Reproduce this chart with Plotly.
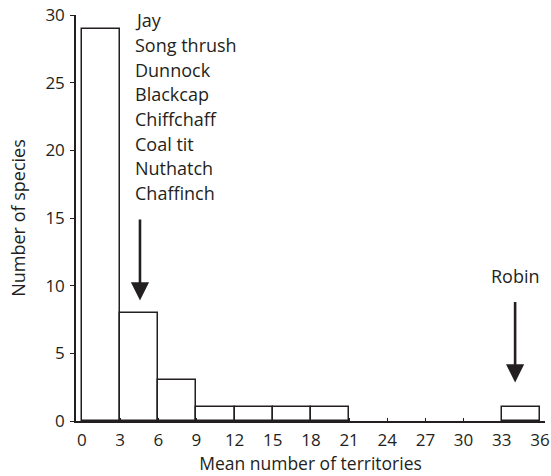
import plotly.graph_objects as go

# Data
bin_left = [0, 3, 6, 9, 12, 15, 18, 33]
bin_width = 3
counts = [29, 8, 3, 1, 1, 1, 1, 1]
tick_vals = list(range(0, 37, 3))
species_low = ["Jay", "Song thrush", "Dunnock", "Blackcap", "Chiffchaff",
               "Coal tit", "Nuthatch", "Chaffinch"]
robin_label = "Robin"
arrow1_x, arrow1_tail, arrow1_tip = 4.56, 15.0, 8.9
arrow2_x, arrow2_tail, arrow2_tip = 34.05, 8.9, 2.85

FONT = "Open Sans"
INK = "#231f20"

centers = [b + bin_width / 2 for b in bin_left]

fig = go.Figure()
fig.add_trace(go.Bar(
    x=centers, y=counts, width=[bin_width] * len(counts),
    marker=dict(color="white", line=dict(color=INK, width=1.5)),
    showlegend=False, hoverinfo="skip",
))

annotations = []
for i, name in enumerate(species_low):
    annotations.append(dict(
        x=4.0, y=29.6 - i * 1.82, xref="x", yref="y", text=name,
        showarrow=False, xanchor="left", yanchor="middle",
        font=dict(family=FONT, size=18, color=INK),
    ))
annotations.append(dict(
    x=arrow2_x, y=10.7, xref="x", yref="y", text=robin_label,
    showarrow=False, xanchor="center", yanchor="middle",
    font=dict(family=FONT, size=18, color=INK),
))
for ax_, tail, tip in [(arrow1_x, arrow1_tail, arrow1_tip),
                       (arrow2_x, arrow2_tail, arrow2_tip)]:
    annotations.append(dict(
        x=ax_, y=tip, ax=ax_, ay=tail, xref="x", yref="y",
        axref="x", ayref="y", text="", showarrow=True,
        arrowhead=2, arrowsize=1.4, arrowwidth=2.6, arrowcolor=INK,
        standoff=0,
    ))

fig.update_layout(
    width=551, height=476,
    margin=dict(l=76, r=6, t=15, b=55),
    paper_bgcolor="white", plot_bgcolor="white",
    font=dict(family=FONT, size=17, color=INK),
    bargap=0,
    annotations=annotations,
    xaxis=dict(
        range=[-0.47, 36.4], tickvals=tick_vals, automargin=False,
        ticks="inside", ticklen=3, tickwidth=1, tickcolor=INK,
        showline=True, linecolor=INK, linewidth=1.5,
        showgrid=False, zeroline=False, ticklabelstandoff=3,
        title=dict(text="Mean number of territories", standoff=2,
                   font=dict(size=17.5)),
        tickfont=dict(size=17),
    ),
    yaxis=dict(
        range=[0, 30], dtick=5, automargin=False,
        ticks="outside", ticklen=4, tickwidth=1, tickcolor=INK,
        showline=True, linecolor=INK, linewidth=1.5,
        showgrid=False, zeroline=False, ticklabelstandoff=2,
        title=dict(text="Number of species", standoff=15,
                   font=dict(size=18)),
        tickfont=dict(size=17),
    ),
)

fig.write_html("out.html")
